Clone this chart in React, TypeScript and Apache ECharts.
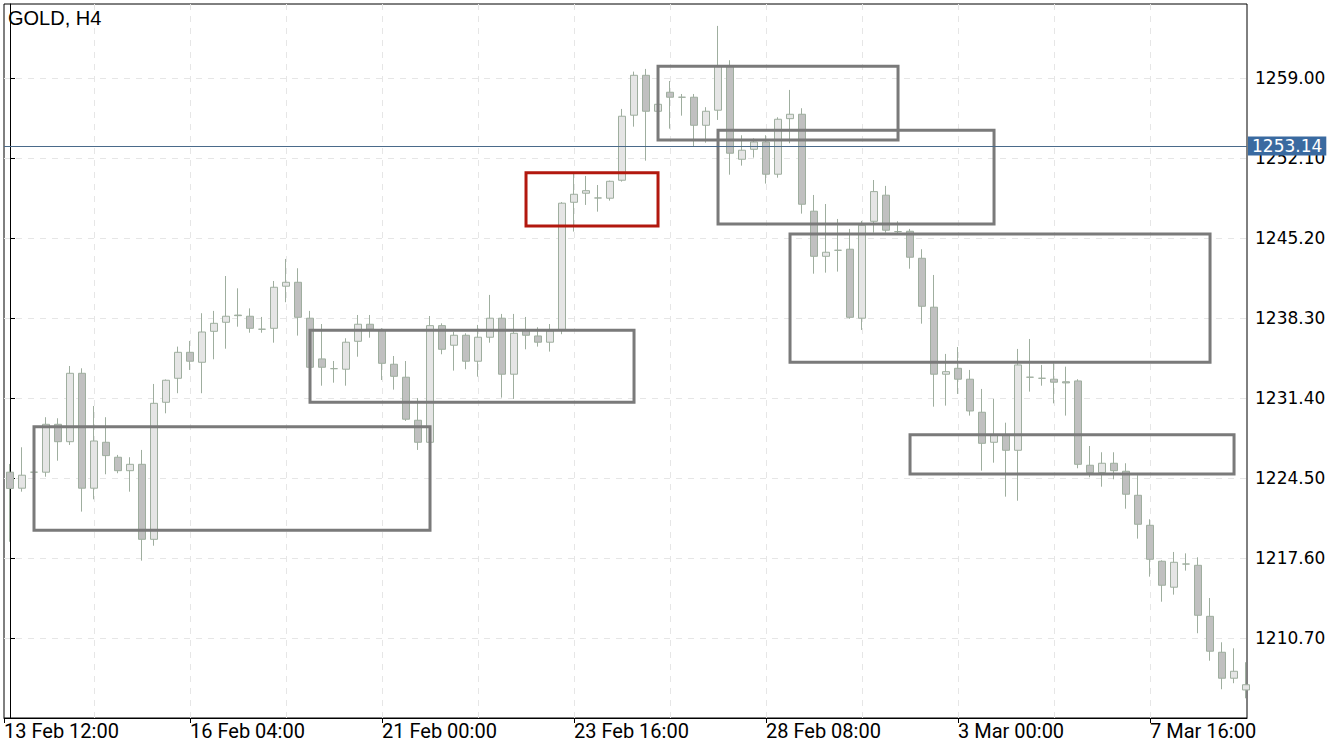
import React, { useEffect, useRef } from "react";
import * as echarts from "echarts";

// OHLC values per H4 bar (index 0 .. 103)
const opens = [
  1225.0, 1223.62, 1225.0, 1225.0, 1229.13, 1227.63, 1233.53, 1223.62, 1227.58, 1226.29,
  1225.13, 1225.68, 1219.21, 1231.03, 1233.1, 1235.34, 1234.48, 1237.15, 1237.93, 1238.55,
  1238.45, 1237.33, 1237.41, 1241.04, 1241.38, 1238.28, 1234.77, 1233.93, 1233.88, 1236.29,
  1237.76, 1237.27, 1234.31, 1233.19, 1229.48, 1227.58, 1237.64, 1235.95, 1236.81, 1234.57,
  1236.64, 1238.28, 1233.45, 1237.24, 1236.75, 1236.21, 1237.24, 1248.28, 1249.06, 1248.65,
  1248.63, 1250.18, 1255.79, 1259.23, 1256.13, 1257.77, 1257.34, 1257.34, 1254.92, 1256.22,
  1260.01, 1251.99, 1252.85, 1253.48, 1250.7, 1255.49, 1255.87, 1247.51, 1243.62, 1244.14,
  1244.23, 1238.28, 1246.64, 1248.89, 1245.75, 1245.78, 1243.45, 1239.23, 1233.45, 1233.96,
  1233.02, 1230.17, 1227.58, 1228.21, 1226.89, 1233.19, 1233.1, 1233.02, 1232.8, 1232.87,
  1225.6, 1224.96, 1225.77, 1225.08, 1223.01, 1220.42, 1217.32, 1215.08, 1217.08, 1216.97,
  1212.57, 1209.47, 1207.23, 1206.22,
];
const closes = [
  1223.6, 1224.74, 1225.0, 1229.13, 1227.63, 1233.53, 1223.62, 1227.69, 1226.43, 1225.13,
  1225.68, 1219.21, 1230.94, 1232.93, 1235.34, 1234.57, 1237.09, 1237.84, 1238.45, 1238.5,
  1237.41, 1237.33, 1240.95, 1241.38, 1238.36, 1234.05, 1234.05, 1233.93, 1236.21, 1237.76,
  1237.33, 1234.39, 1233.27, 1229.57, 1227.58, 1237.64, 1235.6, 1236.81, 1234.57, 1236.64,
  1238.28, 1233.45, 1236.98, 1236.81, 1236.21, 1237.18, 1248.2, 1248.97, 1249.28, 1248.65,
  1250.09, 1255.7, 1259.23, 1256.13, 1256.73, 1257.34, 1257.34, 1254.92, 1256.13, 1260.01,
  1252.51, 1252.77, 1253.48, 1250.7, 1255.44, 1255.87, 1248.11, 1243.62, 1243.97, 1244.14,
  1238.36, 1246.3, 1249.2, 1245.87, 1245.75, 1243.54, 1239.31, 1233.45, 1233.67, 1233.02,
  1230.28, 1227.49, 1228.21, 1226.89, 1234.25, 1233.19, 1233.1, 1232.76, 1232.7, 1225.68,
  1224.96, 1225.77, 1225.13, 1223.1, 1220.51, 1217.49, 1215.25, 1217.23, 1217.08, 1212.66,
  1209.56, 1207.23, 1207.83, 1206.67,
];
const lows = [
  1219.0, 1223.32, 1224.9, 1224.61, 1225.99, 1227.35, 1221.6, 1222.66, 1224.82, 1224.91,
  1223.32, 1217.37, 1218.66, 1230.08, 1231.81, 1233.82, 1231.81, 1234.74, 1235.65, 1237.55,
  1237.03, 1237.03, 1236.17, 1239.66, 1236.78, 1233.9, 1232.46, 1232.72, 1232.46, 1234.96,
  1236.6, 1232.95, 1232.12, 1229.42, 1226.92, 1227.4, 1235.17, 1233.76, 1233.88, 1233.24,
  1236.17, 1231.43, 1231.32, 1235.6, 1235.83, 1235.4, 1236.9, 1245.75, 1248.05, 1247.47,
  1248.42, 1250.06, 1254.8, 1251.87, 1256.1, 1254.63, 1255.75, 1253.08, 1253.42, 1255.38,
  1250.66, 1251.44, 1252.13, 1249.89, 1250.4, 1253.37, 1247.3, 1242.12, 1242.21, 1242.3,
  1238.24, 1237.27, 1245.66, 1245.66, 1245.55, 1242.55, 1237.81, 1230.65, 1230.74, 1231.75,
  1229.88, 1225.13, 1225.82, 1222.89, 1222.54, 1231.95, 1232.46, 1230.94, 1229.88, 1225.34,
  1224.56, 1223.75, 1224.39, 1221.85, 1219.27, 1215.99, 1213.83, 1214.44, 1216.51, 1211.11,
  1208.74, 1206.28, 1206.8, 1205.5,
];
const highs = [
  1225.71, 1227.15, 1225.1, 1229.74, 1229.65, 1234.16, 1233.96, 1230.71, 1229.74, 1226.49,
  1226.29, 1226.92, 1232.61, 1233.0, 1235.83, 1236.32, 1238.71, 1238.91, 1241.92, 1240.86,
  1239.13, 1238.39, 1241.49, 1243.39, 1242.59, 1238.91, 1237.78, 1234.59, 1236.55, 1238.56,
  1238.56, 1237.41, 1235.02, 1234.59, 1231.4, 1238.47, 1237.84, 1237.12, 1236.98, 1237.7,
  1240.29, 1238.65, 1238.65, 1238.39, 1237.5, 1237.78, 1248.3, 1250.72, 1250.55, 1249.77,
  1250.15, 1256.33, 1259.55, 1259.78, 1256.8, 1258.74, 1257.62, 1257.62, 1256.48, 1263.49,
  1260.53, 1254.06, 1253.8, 1254.06, 1255.61, 1257.97, 1256.39, 1248.91, 1248.13, 1246.84,
  1245.98, 1246.67, 1250.2, 1249.69, 1246.64, 1245.98, 1244.23, 1242.01, 1235.2, 1235.8,
  1233.82, 1232.18, 1231.32, 1229.27, 1235.63, 1236.49, 1234.25, 1234.39, 1234.1, 1233.02,
  1227.26, 1226.72, 1226.72, 1225.77, 1224.74, 1220.94, 1217.4, 1218.12, 1218.0, 1217.66,
  1214.15, 1210.33, 1209.81, 1208.61,
];

// X-axis time labels and the bar position they sit at
const xTickLabels = ["13 Feb 12:00", "16 Feb 04:00", "21 Feb 00:00", "23 Feb 16:00", "28 Feb 08:00", "3 Mar 00:00", "7 Mar 16:00"];
const xTickPositions = [-0.5, 15, 31, 47, 63, 79, 95];
const xGridPositions = [7, 15, 23, 31, 39, 47, 55, 63, 71, 79, 87, 95];

// Y-axis price ticks
const yTicks = [1210.7, 1217.6, 1224.5, 1231.4, 1238.3, 1245.2, 1252.1, 1259.0];
const currentPrice = 1253.14;

// Zones drawn on the chart: [startBar, topPrice, endBar, bottomPrice, kind]
const zones: [number, number, number, number, string][] = [
  [2, 1228.92, 35, 1219.99, "gray"],
  [25, 1237.24, 52, 1231.03, "gray"],
  [43, 1250.83, 54, 1246.23, "red"],
  [54, 1260.01, 74, 1253.65, "gray"],
  [59, 1254.49, 82, 1246.41, "gray"],
  [65, 1245.54, 100, 1234.48, "gray"],
  [75, 1228.23, 102, 1224.84, "gray"],
];

export default function App() {
  const ref = useRef<HTMLDivElement>(null);

  useEffect(() => {
    if (!ref.current) return;
    const chart = echarts.init(ref.current, undefined, { renderer: "svg" });
    const candleData = opens.map((o, i) => [i, o, closes[i], lows[i], highs[i]]);
    const zoneColors: Record<string, string> = { gray: "#7a7a7a", red: "#b2180e" };

    chart.setOption({
      animation: false,
      backgroundColor: "#ffffff",
      title: {
        text: "GOLD, H4",
        left: 8,
        top: 8,
        padding: 0,
        textStyle: { fontFamily: "Liberation Sans", fontSize: 20, fontWeight: "normal", color: "#000" },
      },
      grid: {
        left: 4,
        top: 4,
        right: 87,
        bottom: 32,
        show: true,
        borderColor: "#000",
        borderWidth: 1,
        backgroundColor: "transparent",
      },
      xAxis: [
        {
          type: "value",
          min: -0.5,
          max: 103.08,
          position: "bottom",
          axisLine: { show: true, lineStyle: { color: "#000", width: 1 } },
          axisTick: { show: true, length: 5, customValues: xTickPositions, lineStyle: { color: "#000" } },
          axisLabel: {
            show: true,
            customValues: xTickPositions,
            align: "left",
            margin: 3,
            color: "#000",
            fontFamily: "Roboto",
            fontSize: 20,
            formatter: (v: number) => {
              const k = xTickPositions.indexOf(v);
              return k >= 0 ? xTickLabels[k] : "";
            },
          },
          splitLine: { show: false },
        },
        {
          type: "value",
          min: -0.5,
          max: 103.08,
          position: "bottom",
          axisLine: { show: false },
          axisTick: { show: false, customValues: xGridPositions },
          axisLabel: { show: false, customValues: xGridPositions },
          splitLine: { show: true, lineStyle: { color: "#e6e6e6", type: [6, 6], width: 1 } },
        },
      ],
      yAxis: {
        type: "value",
        position: "right",
        min: 1203.8,
        max: 1265.38,
        axisLine: { show: true, lineStyle: { color: "#000", width: 1 } },
        axisTick: { show: true, length: 5, customValues: yTicks, lineStyle: { color: "#000" } },
        axisLabel: {
          customValues: yTicks,
          margin: 8,
          color: "#000",
          fontFamily: "DejaVu Sans",
          fontSize: 17,
          formatter: (v: number) => v.toFixed(2),
        },
        splitLine: { show: true, lineStyle: { color: "#e6e6e6", type: [6, 6], width: 1 } },
      },
      series: [
        {
          type: "candlestick",
          xAxisIndex: 0,
          yAxisIndex: 0,
          barWidth: 8,
          data: candleData,
          itemStyle: {
            color: "#e5e5e5",
            color0: "#c0c0c0",
            borderColor: "#9fae9f",
            borderColor0: "#9fae9f",
            borderWidth: 1,
          },
          markArea: {
            silent: true,
            z: 5,
            data: zones.map((zn) => [
              {
                coord: [zn[0], zn[1]],
                itemStyle: { color: "rgba(0,0,0,0)", borderColor: zoneColors[zn[4]], borderWidth: 3 },
              },
              { coord: [zn[2], zn[3]] },
            ]),
          },
          markLine: {
            silent: true,
            symbol: "none",
            z: 6,
            lineStyle: { color: "#4a6a8a", width: 1, type: "solid" },
            label: {
              show: true,
              position: "end",
              distance: 1,
              formatter: currentPrice.toFixed(2),
              color: "#fff",
              backgroundColor: "#3a6aa0",
              padding: [0, 4, 0, 4],
              lineHeight: 19,
              fontFamily: "DejaVu Sans",
              fontSize: 17,
            },
            data: [{ yAxis: currentPrice }],
          },
        },
      ],
    });

    return () => chart.dispose();
  }, []);

  return (
    <div
      ref={ref}
      style={{ position: "fixed", left: 0, top: 0, width: 1334, height: 750, background: "#fff" }}
    />
  );
}
